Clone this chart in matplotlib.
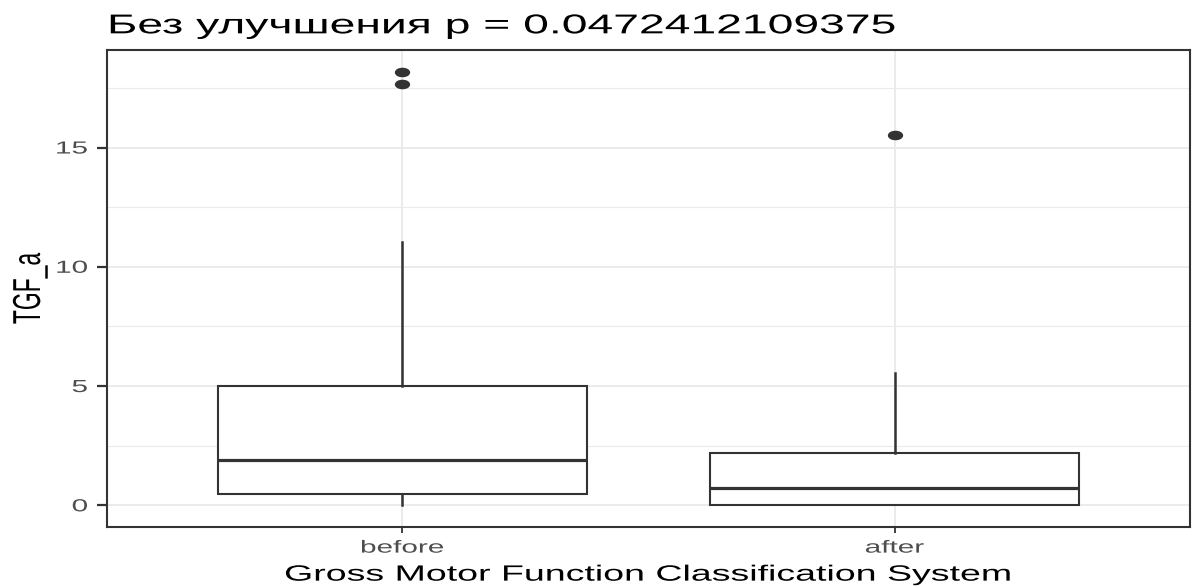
import matplotlib
matplotlib.use("Agg")
import matplotlib.pyplot as plt
from matplotlib.path import Path
from matplotlib.transforms import Affine2D
from matplotlib.ticker import MultipleLocator
from matplotlib.patheffects import AbstractPathEffect

plt.rcParams['font.family'] = ['Liberation Sans', 'DejaVu Sans']

# Summary statistics per group
groups = ["before", "after"]
whisker_low = [0.0, 0.0]
q1 = [0.46, 0.0]
median = [1.89, 0.72]
q3 = [4.99, 2.18]
whisker_high = [11.06, 5.53]
outliers = [[17.68, 18.18], [15.54]]

title = "Без улучшения p = 0.0472412109375"
xlabel = "Gross Motor Function Classification System"
ylabel = "TGF_a"

WIDE = 1.7  # horizontal widening applied to glyphs and dots


class Widen(AbstractPathEffect):
    """Scale the glyph outlines along one glyph axis about an anchor."""

    def __init__(self, sx=1.0, sy=1.0, anchor="left"):
        super().__init__()
        self.sx, self.sy, self.anchor = sx, sy, anchor

    def draw_path(self, renderer, gc, tpath, affine, rgbFace=None):
        ext = tpath.get_extents()
        if self.anchor == "left":
            cx = 0.0
        elif self.anchor == "right":
            cx = ext.x1
        else:
            cx = 0.5 * (ext.x0 + ext.x1)
        t = (Affine2D().translate(-cx, 0).scale(self.sx, self.sy)
             .translate(cx, 0) + affine)
        renderer.draw_path(gc, tpath, t, rgbFace)


W, H = 1198, 587
fig = plt.figure(figsize=(W / 100, H / 100), dpi=100)
ax = fig.add_axes([107 / W, (H - 527) / H, (1190 - 107) / W, (527 - 50) / H])

stats = []
for i, g in enumerate(groups):
    stats.append(dict(label=g, whislo=whisker_low[i], q1=q1[i], med=median[i],
                      q3=q3[i], whishi=whisker_high[i], fliers=outliers[i]))

dot = Path.unit_circle().transformed(Affine2D().scale(WIDE, 1.0))

line_c = "#333333"
ax.bxp(stats, positions=[1, 2], widths=0.75, showcaps=False, patch_artist=True,
       boxprops=dict(facecolor="white", edgecolor=line_c, linewidth=1.5),
       medianprops=dict(color=line_c, linewidth=2.3),
       whiskerprops=dict(color=line_c, linewidth=1.8),
       flierprops=dict(marker=dot, markersize=10, markerfacecolor=line_c,
                       markeredgecolor=line_c))

lo = min(whisker_low)
hi = max(max(o) for o in outliers)
pad = 0.05 * (hi - lo)
ax.set_ylim(lo - pad, hi + pad)
ax.set_xlim(0.4, 2.6)

ax.yaxis.set_major_locator(MultipleLocator(5))
ax.yaxis.set_minor_locator(MultipleLocator(2.5))
ax.set_xticks([1, 2])
ax.set_xticklabels(groups)

ax.grid(True, which="major", color="#EBEBEB", linewidth=1.4)
ax.grid(True, which="minor", axis="y", color="#EBEBEB", linewidth=0.8)
ax.set_axisbelow(True)

for s in ax.spines.values():
    s.set_color("#333333")
    s.set_linewidth(1.5)

ax.tick_params(axis="both", which="major", colors="#333333", labelcolor="#4D4D4D",
               labelsize=12.6, width=1.3)
ax.tick_params(axis="x", length=4.3, pad=5.5)
ax.tick_params(axis="y", length=7, pad=7, width=1.6)
ax.tick_params(axis="y", which="minor", length=0)

ax.set_xlabel(xlabel, fontsize=15.9, color="black", labelpad=6.5,
              path_effects=[Widen(sx=WIDE, anchor="center")])
ax.set_ylabel(ylabel, fontsize=16.5, color="black",
              path_effects=[Widen(sy=WIDE, anchor="center")])
ax.yaxis.set_label_coords(-62 / 1083, 0.5)
ax.set_title(title, fontsize=19.6, loc="left", color="black", pad=12,
             path_effects=[Widen(sx=WIDE, anchor="left")])

fig.canvas.draw()
for t in ax.get_xticklabels():
    t.set_path_effects([Widen(sx=WIDE, anchor="center")])
for t in ax.get_yticklabels():
    t.set_path_effects([Widen(sx=WIDE, anchor="right")])

fig.savefig("out.png", dpi=100)
